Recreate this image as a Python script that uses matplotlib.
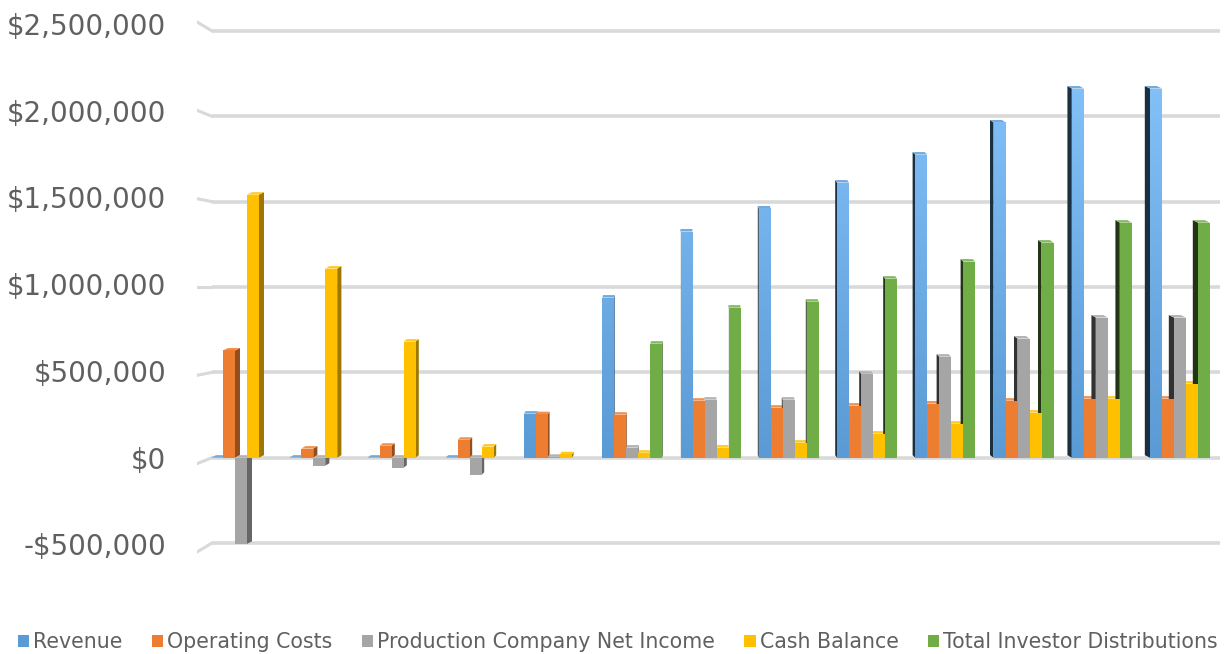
import numpy as np
import matplotlib
matplotlib.use("Agg")
import matplotlib.pyplot as plt
from matplotlib.patches import Polygon, Patch
from matplotlib.colors import LinearSegmentedColormap, to_rgb

# yearly figures, 13 periods
periods = np.arange(13)
revenue = [0, 0, 0, 0, 258000, 938000, 1325000, 1460000, 1612000, 1776000, 1964000, 2163000, 2163000]
operating_costs = [628000, 53000, 70000, 105000, 255000, 252000, 334000, 293000, 305000, 317000, 334000, 346000, 346000]
net_income = [-505000, -47000, -59000, -100000, 5000, 59000, 340000, 340000, 492000, 592000, 698000, 821000, 821000]
cash_balance = [1541000, 1108000, 680000, 65000, 20000, 29000, 59000, 88000, 141000, 199000, 264000, 346000, 434000]
investor_dist = [np.nan, np.nan, np.nan, np.nan, np.nan, 668000, 879000, 914000, 1049000, 1149000, 1260000, 1377000, 1377000]

series = [
    ("Revenue", revenue, "#5B9BD5"),
    ("Operating Costs", operating_costs, "#ED7D31"),
    ("Production Company Net Income", net_income, "#A5A5A5"),
    ("Cash Balance", cash_balance, "#FFC000"),
    ("Total Investor Distributions", investor_dist, "#70AD47"),
]
yticks = [-500000, 0, 500000, 1000000, 1500000, 2000000, 2500000]

W, H = 1225, 654
fig = plt.figure(figsize=(W / 100, H / 100), dpi=100)
ax = fig.add_axes([197 / W, (H - 600) / H, 1025 / W, 590 / H])

val_px = 500000 / 85.33          # value per pixel
unit_px = 78.25                  # pixels per period
ax.axis("off")

grid_c = "#D9D9D9"
stub_x = [-44 / unit_px, -29 / unit_px]
for v in yticks:
    # wall gridline plus the short slanted floor edge at the left
    rise = 6 * (v - 1000000) / 1000000 * val_px
    ax.plot([stub_x[1], 979 / unit_px], [v, v], color=grid_c, lw=2.6, zorder=1, solid_capstyle="butt")
    ax.plot(stub_x, [v + rise, v], color=grid_c, lw=2.2, zorder=1)
    label = "$0" if v == 0 else ("-" if v < 0 else "") + "${:,.0f}".format(abs(v))
    lift = (4 - 2.83 * (2500000 - v) / 1000000) * val_px
    ax.text(-75 / unit_px, v + lift, label, ha="right", va="center",
            fontsize=20, color="#606060", clip_on=False)

bw = 12 / unit_px


def shade(c, f):
    r, g, b = to_rgb(c)
    return (r * f, g * f, b * f)


def lighten(c, f):
    r, g, b = to_rgb(c)
    return (r + (1 - r) * f, g + (1 - g) * f, b + (1 - b) * f)


blue_map = LinearSegmentedColormap.from_list("blue_grad", ["#5B9BD5", "#82C0F8"])

for k, (name, vals, col) in enumerate(series):
    for i in periods:
        h = vals[i]
        if np.isnan(h):
            continue
        x0 = i + (k - 2.5) * bw
        x1 = x0 + bw
        d = (459 - 78 * i) * 0.01087 / unit_px
        s = 2.5 * val_px
        lo, hi = min(0, h), max(0, h)
        # side face
        if d > 0:
            side = [(x1, lo), (x1 + d, lo + s), (x1 + d, hi + s), (x1, hi)]
            sc = shade(col, 0.62)
        else:
            side = [(x0, lo), (x0 + d, lo + s), (x0 + d, hi + s), (x0, hi)]
            sc = shade(col, 0.3)
        ax.add_patch(Polygon(side, closed=True, fc=sc, ec="none", zorder=2 + i * 0.01))
        # top face
        top = [(x0, hi), (x1, hi), (x1 + d, hi + s), (x0 + d, hi + s)]
        ax.add_patch(Polygon(top, closed=True, fc=lighten(col, 0.15), ec="none", zorder=2 + i * 0.01))
        # front face
        bar = ax.bar(x0, h, width=bw, align="edge", color=col, zorder=3, linewidth=0)[0]
        if k == 0 and h > 0:
            frac = h / 2200000
            grad = np.linspace(0, frac, 64).reshape(-1, 1)
            im = ax.imshow(grad, extent=[x0, x1, 0, h], origin="lower", aspect="auto",
                           cmap=blue_map, vmin=0, vmax=1, zorder=3.5)
            im.set_clip_path(bar)

ax.set_xlim(-44 / unit_px, 981 / unit_px)
ax.set_ylim(-500000 - 57 * val_px, 2500000 + 21 * val_px)

handles = [Patch(fc=c, ec="none", label=n) for n, _, c in series]
fig.legend(handles=handles, loc="center", bbox_to_anchor=(618 / W, 1 - 642 / H), ncol=5, frameon=False,
           fontsize=14.8, labelcolor="#606060", handlelength=0.55, handleheight=0.55,
           handletextpad=0.2, columnspacing=1.42, borderpad=0, borderaxespad=0)

fig.savefig("out.png", dpi=100)
